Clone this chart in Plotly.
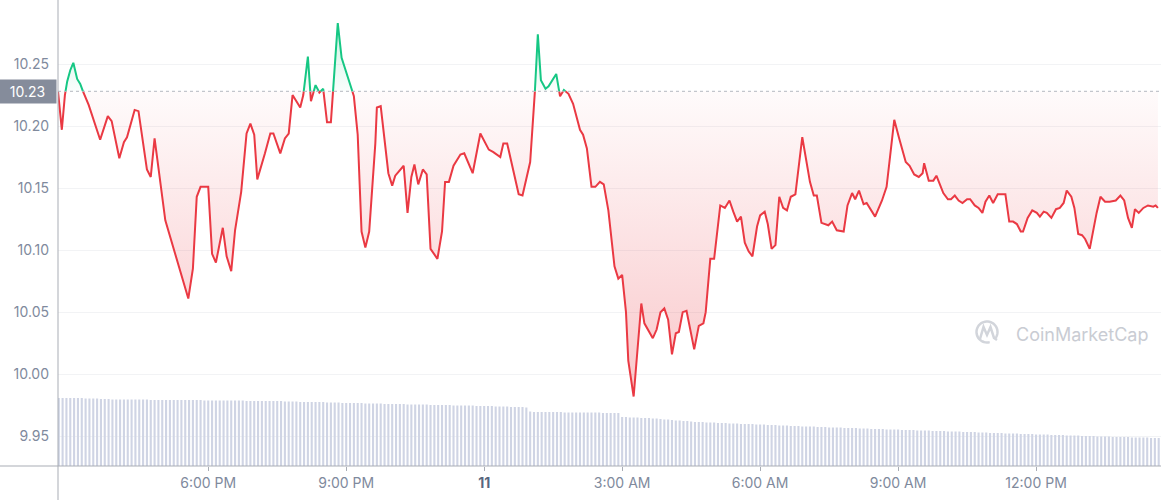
import math

import numpy as np
import pandas as pd
import plotly.graph_objects as go

# price (day 10 afternoon -> day 11 afternoon)
times = [
    "2021-07-10 14:44", "2021-07-10 14:49", "2021-07-10 14:53", "2021-07-10 14:56", "2021-07-10 15:00",
    "2021-07-10 15:04", "2021-07-10 15:09", "2021-07-10 15:13", "2021-07-10 15:19", "2021-07-10 15:24",
    "2021-07-10 15:39", "2021-07-10 15:49", "2021-07-10 15:54", "2021-07-10 16:04", "2021-07-10 16:10",
    "2021-07-10 16:14", "2021-07-10 16:24", "2021-07-10 16:29", "2021-07-10 16:40", "2021-07-10 16:45",
    "2021-07-10 16:50", "2021-07-10 17:04", "2021-07-10 17:34", "2021-07-10 17:40", "2021-07-10 17:45",
    "2021-07-10 17:50", "2021-07-10 18:00", "2021-07-10 18:05", "2021-07-10 18:10", "2021-07-10 18:19",
    "2021-07-10 18:24", "2021-07-10 18:30", "2021-07-10 18:35", "2021-07-10 18:43", "2021-07-10 18:50",
    "2021-07-10 18:55", "2021-07-10 19:00", "2021-07-10 19:04", "2021-07-10 19:14", "2021-07-10 19:21",
    "2021-07-10 19:25", "2021-07-10 19:34", "2021-07-10 19:40", "2021-07-10 19:45", "2021-07-10 19:50",
    "2021-07-10 20:00", "2021-07-10 20:04", "2021-07-10 20:10", "2021-07-10 20:14", "2021-07-10 20:20",
    "2021-07-10 20:25", "2021-07-10 20:30", "2021-07-10 20:35", "2021-07-10 20:40", "2021-07-10 20:49",
    "2021-07-10 20:54", "2021-07-10 20:59", "2021-07-10 21:04", "2021-07-10 21:10", "2021-07-10 21:15",
    "2021-07-10 21:20", "2021-07-10 21:25", "2021-07-10 21:30", "2021-07-10 21:38", "2021-07-10 21:40",
    "2021-07-10 21:45", "2021-07-10 21:55", "2021-07-10 22:00", "2021-07-10 22:04", "2021-07-10 22:15",
    "2021-07-10 22:20", "2021-07-10 22:25", "2021-07-10 22:29", "2021-07-10 22:34", "2021-07-10 22:40",
    "2021-07-10 22:45", "2021-07-10 22:50", "2021-07-10 22:59", "2021-07-10 23:05", "2021-07-10 23:09",
    "2021-07-10 23:14", "2021-07-10 23:20", "2021-07-10 23:29", "2021-07-10 23:34", "2021-07-10 23:45",
    "2021-07-10 23:55", "2021-07-11 00:06", "2021-07-11 00:12", "2021-07-11 00:21", "2021-07-11 00:25",
    "2021-07-11 00:30", "2021-07-11 00:45", "2021-07-11 00:50", "2021-07-11 01:00", "2021-07-11 01:06",
    "2021-07-11 01:10", "2021-07-11 01:14", "2021-07-11 01:20", "2021-07-11 01:24", "2021-07-11 01:34",
    "2021-07-11 01:39", "2021-07-11 01:44", "2021-07-11 01:50", "2021-07-11 01:56", "2021-07-11 02:05",
    "2021-07-11 02:09", "2021-07-11 02:14", "2021-07-11 02:20", "2021-07-11 02:25", "2021-07-11 02:31",
    "2021-07-11 02:36", "2021-07-11 02:42", "2021-07-11 02:50", "2021-07-11 02:55", "2021-07-11 03:00",
    "2021-07-11 03:05", "2021-07-11 03:08", "2021-07-11 03:15", "2021-07-11 03:25", "2021-07-11 03:29",
    "2021-07-11 03:40", "2021-07-11 03:45", "2021-07-11 03:50", "2021-07-11 03:55", "2021-07-11 04:00",
    "2021-07-11 04:05", "2021-07-11 04:10", "2021-07-11 04:14", "2021-07-11 04:19", "2021-07-11 04:24",
    "2021-07-11 04:34", "2021-07-11 04:40", "2021-07-11 04:46", "2021-07-11 04:49", "2021-07-11 04:55",
    "2021-07-11 05:00", "2021-07-11 05:08", "2021-07-11 05:14", "2021-07-11 05:20", "2021-07-11 05:25",
    "2021-07-11 05:30", "2021-07-11 05:35", "2021-07-11 05:40", "2021-07-11 05:45", "2021-07-11 05:50",
    "2021-07-11 05:56", "2021-07-11 06:00", "2021-07-11 06:06", "2021-07-11 06:10", "2021-07-11 06:15",
    "2021-07-11 06:20", "2021-07-11 06:25", "2021-07-11 06:30", "2021-07-11 06:35", "2021-07-11 06:40",
    "2021-07-11 06:46", "2021-07-11 06:55", "2021-07-11 07:05", "2021-07-11 07:10", "2021-07-11 07:14",
    "2021-07-11 07:20", "2021-07-11 07:29", "2021-07-11 07:34", "2021-07-11 07:40", "2021-07-11 07:49",
    "2021-07-11 07:54", "2021-07-11 08:00", "2021-07-11 08:04", "2021-07-11 08:09", "2021-07-11 08:15",
    "2021-07-11 08:19", "2021-07-11 08:30", "2021-07-11 08:39", "2021-07-11 08:45", "2021-07-11 08:55",
    "2021-07-11 09:01", "2021-07-11 09:10", "2021-07-11 09:15", "2021-07-11 09:21", "2021-07-11 09:27",
    "2021-07-11 09:32", "2021-07-11 09:34", "2021-07-11 09:40", "2021-07-11 09:46", "2021-07-11 09:50",
    "2021-07-11 09:59", "2021-07-11 10:05", "2021-07-11 10:09", "2021-07-11 10:14", "2021-07-11 10:19",
    "2021-07-11 10:24", "2021-07-11 10:30", "2021-07-11 10:34", "2021-07-11 10:40", "2021-07-11 10:45",
    "2021-07-11 10:50", "2021-07-11 10:54", "2021-07-11 10:59", "2021-07-11 11:04", "2021-07-11 11:10",
    "2021-07-11 11:20", "2021-07-11 11:25", "2021-07-11 11:30", "2021-07-11 11:35", "2021-07-11 11:40",
    "2021-07-11 11:43", "2021-07-11 11:49", "2021-07-11 11:55", "2021-07-11 12:01", "2021-07-11 12:05",
    "2021-07-11 12:10", "2021-07-11 12:14", "2021-07-11 12:20", "2021-07-11 12:26", "2021-07-11 12:31",
    "2021-07-11 12:36", "2021-07-11 12:40", "2021-07-11 12:46", "2021-07-11 12:50", "2021-07-11 12:55",
    "2021-07-11 13:00", "2021-07-11 13:04", "2021-07-11 13:10", "2021-07-11 13:19", "2021-07-11 13:24",
    "2021-07-11 13:30", "2021-07-11 13:36", "2021-07-11 13:44", "2021-07-11 13:50", "2021-07-11 13:55",
    "2021-07-11 14:00", "2021-07-11 14:05", "2021-07-11 14:09", "2021-07-11 14:14", "2021-07-11 14:20",
    "2021-07-11 14:26", "2021-07-11 14:33", "2021-07-11 14:36", "2021-07-11 14:39",
]
prices = [
    10.228, 10.197, 10.225, 10.236, 10.245, 10.251, 10.238, 10.234, 10.224, 10.217,
    10.189, 10.208, 10.204, 10.174, 10.187, 10.191, 10.213, 10.212, 10.165, 10.159,
    10.190, 10.124, 10.061, 10.085, 10.143, 10.151, 10.151, 10.097, 10.090, 10.118,
    10.095, 10.083, 10.116, 10.147, 10.194, 10.202, 10.193, 10.157, 10.178, 10.194,
    10.194, 10.178, 10.190, 10.194, 10.225, 10.215, 10.225, 10.256, 10.220, 10.233,
    10.227, 10.230, 10.203, 10.203, 10.283, 10.255, 10.245, 10.236, 10.224, 10.193,
    10.115, 10.102, 10.115, 10.186, 10.215, 10.216, 10.162, 10.152, 10.160, 10.168,
    10.130, 10.159, 10.169, 10.153, 10.165, 10.161, 10.101, 10.093, 10.115, 10.155,
    10.155, 10.168, 10.177, 10.178, 10.162, 10.194, 10.181, 10.179, 10.175, 10.186,
    10.186, 10.145, 10.144, 10.171, 10.226, 10.274, 10.237, 10.230, 10.232, 10.242,
    10.224, 10.229, 10.226, 10.218, 10.197, 10.193, 10.182, 10.151, 10.151, 10.155,
    10.153, 10.132, 10.087, 10.077, 10.080, 10.050, 10.011, 9.982, 10.057, 10.041,
    10.029, 10.036, 10.050, 10.053, 10.044, 10.016, 10.033, 10.034, 10.050, 10.051,
    10.020, 10.039, 10.041, 10.050, 10.093, 10.093, 10.136, 10.134, 10.140, 10.131,
    10.123, 10.127, 10.106, 10.099, 10.095, 10.119, 10.128, 10.131, 10.121, 10.101,
    10.104, 10.143, 10.134, 10.132, 10.143, 10.145, 10.191, 10.155, 10.144, 10.144,
    10.122, 10.120, 10.123, 10.116, 10.115, 10.136, 10.146, 10.141, 10.148, 10.137,
    10.138, 10.127, 10.140, 10.151, 10.205, 10.191, 10.171, 10.168, 10.161, 10.159,
    10.162, 10.170, 10.156, 10.156, 10.160, 10.146, 10.141, 10.141, 10.144, 10.140,
    10.138, 10.141, 10.141, 10.136, 10.134, 10.130, 10.139, 10.144, 10.138, 10.145,
    10.145, 10.123, 10.123, 10.121, 10.115, 10.115, 10.126, 10.132, 10.130, 10.127,
    10.131, 10.130, 10.126, 10.133, 10.134, 10.138, 10.148, 10.143, 10.134, 10.113,
    10.112, 10.109, 10.101, 10.130, 10.143, 10.139, 10.139, 10.140, 10.144, 10.140,
    10.126, 10.118, 10.133, 10.130, 10.134, 10.136, 10.135, 10.136, 10.134,
]

# rolling volume bars, one every 5 minutes (one row = one hour)
volume_start = "2021-07-10 14:45"
volumes = [
    13.6, 13.6, 13.6, 13.6, 13.6, 13.6, 13.6, 13.5, 13.5, 13.5, 13.5, 13.4,
    13.4, 13.4, 13.3, 13.3, 13.3, 13.3, 13.3, 13.3, 13.3, 13.3, 13.3, 13.3,
    13.2, 13.2, 13.2, 13.2, 13.2, 13.2, 13.2, 13.2, 13.2, 13.2, 13.2, 13.2,
    13.2, 13.2, 13.1, 13.1, 13.1, 13.1, 13.1, 13.1, 13.1, 13.1, 13.1, 13.1,
    13.1, 13.0, 13.0, 13.0, 13.0, 13.0, 13.0, 13.0, 13.0, 13.0, 13.0, 12.9,
    12.9, 12.9, 12.9, 12.8, 12.8, 12.8, 12.8, 12.8, 12.8, 12.8, 12.7, 12.7,
    12.7, 12.7, 12.6, 12.6, 12.6, 12.6, 12.6, 12.6, 12.5, 12.5, 12.5, 12.5,
    12.5, 12.4, 12.4, 12.4, 12.4, 12.4, 12.4, 12.3, 12.3, 12.3, 12.3, 12.3,
    12.3, 12.2, 12.2, 12.2, 12.2, 12.2, 12.2, 12.1, 12.1, 12.1, 12.1, 12.1,
    12.1, 12.0, 12.0, 12.0, 12.0, 12.0, 11.9, 11.9, 11.9, 11.9, 11.8, 11.8,
    11.8, 11.8, 11.7, 10.9, 10.8, 10.8, 10.8, 10.8, 10.8, 10.8, 10.8, 10.8,
    10.7, 10.7, 10.7, 10.7, 10.7, 10.7, 10.7, 10.7, 10.7, 10.7, 10.6, 10.6,
    10.6, 10.6, 10.6, 9.8, 9.8, 9.7, 9.7, 9.7, 9.6, 9.6, 9.6, 9.5,
    9.5, 9.4, 9.3, 9.3, 9.2, 9.1, 9.1, 9.0, 9.0, 8.9, 8.8, 8.8,
    8.8, 8.7, 8.7, 8.7, 8.6, 8.6, 8.6, 8.5, 8.5, 8.5, 8.4, 8.4,
    8.4, 8.4, 8.3, 8.3, 8.3, 8.2, 8.2, 8.2, 8.1, 8.1, 8.1, 8.0,
    8.0, 8.0, 7.9, 7.9, 7.9, 7.9, 7.8, 7.8, 7.8, 7.7, 7.7, 7.7,
    7.7, 7.6, 7.6, 7.6, 7.6, 7.5, 7.5, 7.5, 7.4, 7.4, 7.4, 7.4,
    7.3, 7.3, 7.3, 7.3, 7.2, 7.2, 7.2, 7.2, 7.1, 7.1, 7.1, 7.1,
    7.0, 7.0, 7.0, 7.0, 6.9, 6.9, 6.9, 6.9, 6.8, 6.8, 6.8, 6.8,
    6.7, 6.7, 6.7, 6.6, 6.6, 6.6, 6.6, 6.5, 6.5, 6.5, 6.5, 6.4,
    6.4, 6.4, 6.4, 6.3, 6.3, 6.3, 6.3, 6.2, 6.2, 6.2, 6.2, 6.1,
    6.1, 6.1, 6.1, 6.0, 6.0, 6.0, 6.0, 5.9, 5.9, 5.9, 5.9, 5.8,
    5.8, 5.8, 5.8, 5.8, 5.7, 5.7, 5.7, 5.7, 5.7, 5.6, 5.6, 5.6,
]

tick_times = ["2021-07-10 18:00", "2021-07-10 21:00", "2021-07-11 00:00", "2021-07-11 03:00",
              "2021-07-11 06:00", "2021-07-11 09:00", "2021-07-11 12:00"]
tick_labels = ["6:00 PM", "9:00 PM", "<b><span style='color:#58667e'>11</span></b>", "3:00 AM",
               "6:00 AM", "9:00 AM", "12:00 PM"]
price_ticks = [9.95, 10.00, 10.05, 10.10, 10.15, 10.20, 10.25]

RED = "#ea3943"
GREEN = "#16c784"
base = prices[0]


def split_at_base(ts, ps, level):
    """在基准线交叉处补点，便于红绿分色"""
    xs, ys = [], []
    for i in range(len(ps)):
        if i > 0 and (ps[i - 1] - level) * (ps[i] - level) < 0:
            f = (level - ps[i - 1]) / (ps[i] - ps[i - 1])
            xs.append(ts[i - 1] + (ts[i] - ts[i - 1]) * f)
            ys.append(level)
        xs.append(ts[i])
        ys.append(ps[i])
    return xs, ys


ts = list(pd.to_datetime(times))
xs, ys = split_at_base(ts, prices, base)
red_line = [v if v <= base else None for v in ys]
green_line = [v if v >= base else None for v in ys]
red_fill = [min(v, base) for v in ys]
green_fill = [max(v, base) for v in ys]
base_line = [base] * len(ys)

vol_x = pd.date_range(volume_start, periods=len(volumes), freq="5min")

fig = go.Figure()

# 成交量柱
fig.add_trace(go.Bar(
    x=vol_x, y=volumes, yaxis="y2",
    marker=dict(color="#cfd4e4", line=dict(width=0)),
    hoverinfo="skip",
))

# 红色区域
fig.add_trace(go.Scatter(x=xs, y=base_line, mode="lines", line=dict(width=0),
                         hoverinfo="skip"))
fig.add_trace(go.Scatter(
    x=xs, y=red_fill, mode="lines", line=dict(width=0), fill="tonexty",
    fillgradient=dict(type="vertical", start=min(prices), stop=base,
                      colorscale=[[0, "rgba(234,57,67,0.28)"], [1, "rgba(234,57,67,0.02)"]]),
    hoverinfo="skip",
))
# 绿色区域
fig.add_trace(go.Scatter(x=xs, y=base_line, mode="lines", line=dict(width=0),
                         hoverinfo="skip"))
fig.add_trace(go.Scatter(
    x=xs, y=green_fill, mode="lines", line=dict(width=0), fill="tonexty",
    fillgradient=dict(type="vertical", start=base, stop=max(prices),
                      colorscale=[[0, "rgba(22,199,132,0.02)"], [1, "rgba(22,199,132,0.22)"]]),
    hoverinfo="skip",
))

# 价格线
fig.add_trace(go.Scatter(x=xs, y=red_line, mode="lines", line=dict(color=RED, width=2),
                         connectgaps=False))
fig.add_trace(go.Scatter(x=xs, y=green_line, mode="lines", line=dict(color=GREEN, width=2),
                         connectgaps=False))

# 开盘价虚线
fig.add_hline(y=base, line=dict(color="#b4b8c0", width=1, dash="dot"))

# 坐标轴线（延伸到边缘）
L, R, T, B = 58, 1161, 0, 466
W, H = R - L, B - T


def px(x, y):
    return (x - L) / W, (B - y) / H


fig.add_shape(type="line", xref="paper", yref="paper", x0=px(0, B)[0], x1=1, y0=0, y1=0,
              line=dict(color="#a9adb5", width=1))
fig.add_shape(type="line", xref="paper", yref="paper", x0=0, x1=0, y0=1, y1=px(L, 500)[1],
              line=dict(color="#a9adb5", width=1))

# 当前价标签
fig.add_annotation(x=0, xref="paper", y=base, yref="y", xanchor="right", yanchor="middle",
                   text="10.23", showarrow=False, width=53, height=19, bgcolor="#858c9b",
                   font=dict(color="white", size=14), borderpad=2, xshift=-1)

# 水印
wm = "#d2d5db"
pts = []
for k in range(41):
    a = math.radians(-35 + k * 320 / 40)
    pts.append(px(987 + 10.5 * math.cos(a), 332 - 10.5 * math.sin(a)))
arc = "M " + " L ".join(f"{p[0]:.5f},{p[1]:.5f}" for p in pts)
fig.add_shape(type="path", xref="paper", yref="paper", path=arc, line=dict(color=wm, width=2.5))
wave = [(980, 339), (983.5, 327), (987, 335), (990.5, 327), (994, 338), (997, 340)]
wpath = "M " + " L ".join("{:.5f},{:.5f}".format(*px(*p)) for p in wave)
fig.add_shape(type="path", xref="paper", yref="paper", path=wpath, line=dict(color=wm, width=2.5))
fig.add_annotation(x=px(1014, 0)[0], xref="paper", y=px(0, 334)[1], yref="paper",
                   xanchor="left", yanchor="middle", text="CoinMarketCap", showarrow=False,
                   font=dict(size=18, color="#c9ccd3", family="Inter, Roboto, sans-serif"))

fig.update_layout(
    width=1161, height=500,
    margin=dict(l=58, r=0, t=0, b=34),
    paper_bgcolor="white", plot_bgcolor="white",
    showlegend=False,
    bargap=0.45,
    font=dict(family="Inter, Roboto, sans-serif", color="#808a9d", size=14),
    xaxis=dict(
        type="date", range=["2021-07-10 14:44", "2021-07-11 14:43"],
        tickvals=tick_times, ticktext=tick_labels,
        ticks="outside", ticklen=4, tickcolor="#a9adb5",
        showgrid=False, showline=False, zeroline=False,
        tickfont=dict(size=14, color="#808a9d"),
    ),
    yaxis=dict(
        range=[9.926, 10.3016], tickvals=price_ticks, tickformat=".2f",
        showgrid=True, gridcolor="#f2f3f5", zeroline=False, showline=False,
        ticks="", ticklabelstandoff=8,
        tickfont=dict(size=14, color="#808a9d"),
    ),
    yaxis2=dict(overlaying="y", range=[0, 93.2], visible=False),
)

# 去掉页面默认边距，让图表贴齐窗口
fig.write_html("out.html", config={"displayModeBar": False},
               post_script="document.body.style.margin='0';document.body.style.overflow='hidden';")
